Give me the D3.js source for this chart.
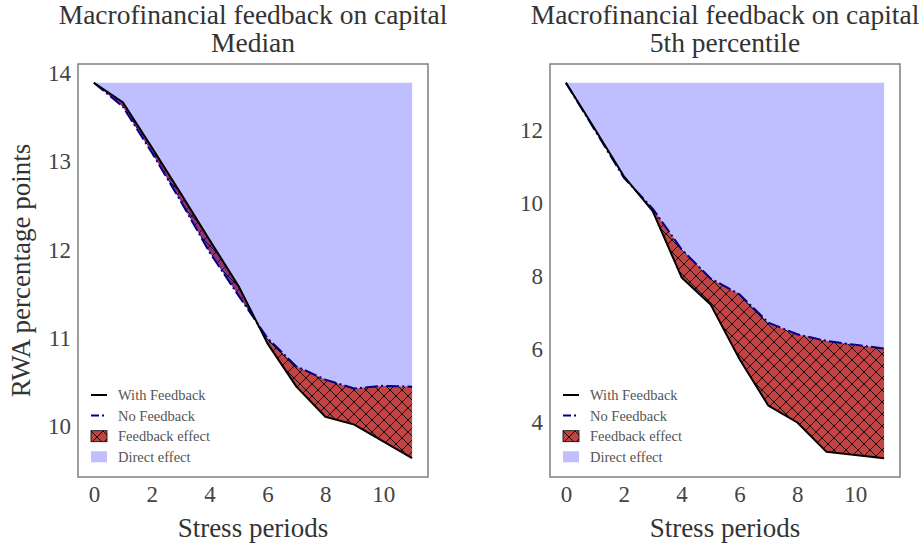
<!DOCTYPE html>
<html lang="en">

<head>
  <meta charset="UTF-8">
  <title>Macrofinancial feedback on capital</title>
  <style>
    body { margin: 0; background: #fff; }
    text { font-family: "Liberation Serif", "DejaVu Serif", serif; }
  </style>
</head>

<body>
  <svg></svg>
  <script src="https://cdn.jsdelivr.net/npm/d3@7"></script>
  <script>
    // data
    var periods = [0, 1, 2, 3, 4, 5, 6, 7, 8, 9, 10, 11];
    var xTicks = [0, 2, 4, 6, 8, 10];

    var medianWith = [13.89, 13.67, 13.16, 12.64, 12.11, 11.59, 10.94, 10.45, 10.11, 10.02, 9.83, 9.64];
    var medianNo = [13.89, 13.62, 13.10, 12.55, 11.97, 11.48, 11.00, 10.68, 10.53, 10.43, 10.46, 10.45];
    var medianTicks = [10, 11, 12, 13, 14];

    var p5With = [13.30, 12.03, 10.74, 9.78, 7.96, 7.22, 5.72, 4.44, 3.98, 3.18, 3.09, 3.00];
    var p5No = [13.30, 12.00, 10.70, 9.85, 8.73, 7.93, 7.50, 6.72, 6.40, 6.22, 6.11, 6.01];
    var p5Ticks = [4, 6, 8, 10, 12];

    var panelTitle = "Macrofinancial feedback on capital";
    var subTitles = ["Median", "5th percentile"];
    var legendLabels = ["With Feedback", "No Feedback", "Feedback effect", "Direct effect"];

    var svg = d3.select("svg")
      .attr("width", 922)
      .attr("height", 548);

    // hatch for the feedback area
    var pat = svg.append("defs").append("pattern")
      .attr("id", "hatch")
      .attr("patternUnits", "userSpaceOnUse")
      .attr("width", 12)
      .attr("height", 12);
    pat.append("rect").attr("width", 12).attr("height", 12).attr("fill", "#c04444");
    pat.append("path")
      .attr("d", "M0,0L12,12M0,12L12,0M-3,3L3,-3M9,15L15,9M-3,9L3,15M9,-3L15,3")
      .attr("stroke", "#000")
      .attr("stroke-width", 0.85);

    var panels = [
      { left: 78, sub: subTitles[0], withF: medianWith, noF: medianNo, ticks: medianTicks, ylabel: true },
      { left: 550, sub: subTitles[1], withF: p5With, noF: p5No, ticks: p5Ticks, ylabel: false }
    ];
    var plotTop = 64, plotBottom = 477, plotW = 350;

    panels.forEach(function(p) {
      var g = svg.append("g");
      var rows = periods.map(function(d, i) {
        return { x: d, w: p.withF[i], n: p.noF[i] };
      });
      var all = p.withF.concat(p.noF);
      var lo = d3.min(all), hi = d3.max(all), pad = (hi - lo) * 0.05;

      var x = d3.scaleLinear()
        .domain([-0.55, 11.55])
        .range([p.left, p.left + plotW]);
      var y = d3.scaleLinear()
        .domain([lo - pad, hi + pad])
        .range([plotBottom, plotTop]);
      var start = p.noF[0];

      // feedback effect (red, hatched)
      g.append("path")
        .datum(rows)
        .attr("fill", "url(#hatch)")
        .attr("d", d3.area()
          .x(function(d) { return x(d.x); })
          .y0(function(d) { return y(d.w); })
          .y1(function(d) { return y(d.n); }));

      // direct effect (blue, transparent)
      g.append("path")
        .datum(rows)
        .attr("fill", "rgba(0,0,255,0.25)")
        .attr("d", d3.area()
          .x(function(d) { return x(d.x); })
          .y0(y(start))
          .y1(function(d) { return y(d.n); }));

      g.append("path")
        .datum(rows)
        .attr("fill", "none")
        .attr("stroke", "#00008b")
        .attr("stroke-width", 2)
        .attr("stroke-dasharray", "12.8,3.2,2,3.2")
        .attr("d", d3.line()
          .x(function(d) { return x(d.x); })
          .y(function(d) { return y(d.n); }));

      g.append("path")
        .datum(rows)
        .attr("fill", "none")
        .attr("stroke", "#000")
        .attr("stroke-width", 2)
        .attr("stroke-linejoin", "round")
        .attr("d", d3.line()
          .x(function(d) { return x(d.x); })
          .y(function(d) { return y(d.w); }));

      // frame
      g.append("rect")
        .attr("x", p.left)
        .attr("y", plotTop)
        .attr("width", plotW)
        .attr("height", plotBottom - plotTop)
        .attr("fill", "none")
        .attr("stroke", "#7f7f7f")
        .attr("stroke-width", 1.5);

      // axes without tick marks
      var xa = g.append("g")
        .attr("transform", "translate(0," + plotBottom + ")")
        .call(d3.axisBottom(x).tickValues(xTicks).tickSize(0).tickPadding(9)
          .tickFormat(d3.format("d")));
      var ya = g.append("g")
        .attr("transform", "translate(" + p.left + ",0)")
        .call(d3.axisLeft(y).tickValues(p.ticks).tickSize(0).tickPadding(7)
          .tickFormat(d3.format("d")));
      [xa, ya].forEach(function(a) {
        a.select(".domain").remove();
        a.selectAll("text")
          .attr("fill", "#444")
          .attr("font-size", "23px")
          .attr("font-family", "Liberation Serif");
      });

      // titles
      var cx = p.left + plotW / 2;
      g.append("text")
        .attr("x", cx).attr("y", 24)
        .attr("text-anchor", "middle")
        .attr("font-size", "27.5px")
        .attr("fill", "#333")
        .text(panelTitle);
      g.append("text")
        .attr("x", cx).attr("y", 52)
        .attr("text-anchor", "middle")
        .attr("font-size", "27.5px")
        .attr("fill", "#333")
        .text(p.sub);
      g.append("text")
        .attr("x", cx).attr("y", 537)
        .attr("text-anchor", "middle")
        .attr("font-size", "27px")
        .attr("fill", "#333")
        .text("Stress periods");
      if (p.ylabel) {
        g.append("text")
          .attr("transform", "translate(30," + (plotTop + plotBottom) / 2 + ") rotate(-90)")
          .attr("text-anchor", "middle")
          .attr("font-size", "27px")
          .attr("fill", "#333")
          .text("RWA percentage points");
      }

      // legend
      var lg = g.append("g")
        .attr("transform", "translate(" + (p.left + 13) + ",395)");
      var step = 20.6;
      lg.append("line")
        .attr("x1", 0).attr("x2", 16).attr("y1", 0).attr("y2", 0)
        .attr("stroke", "#000").attr("stroke-width", 2);
      lg.append("line")
        .attr("x1", 0).attr("x2", 16).attr("y1", step).attr("y2", step)
        .attr("stroke", "#00008b").attr("stroke-width", 2)
        .attr("stroke-dasharray", "8,3,2,3");
      lg.append("rect")
        .attr("x", 0).attr("y", step * 2 - 5.5).attr("width", 16).attr("height", 11)
        .attr("fill", "url(#hatch)").attr("stroke", "#000").attr("stroke-width", 0.8);
      lg.append("rect")
        .attr("x", 0).attr("y", step * 3 - 5.5).attr("width", 16).attr("height", 11)
        .attr("fill", "rgba(0,0,255,0.25)");
      lg.selectAll("text.lab")
        .data(legendLabels)
        .join("text")
        .attr("class", "lab")
        .attr("x", 27)
        .attr("y", function(d, i) { return i * step + 5; })
        .attr("font-size", "14.5px")
        .attr("fill", "#555")
        .text(function(d) { return d; });
    });
  </script>
</body>

</html>
